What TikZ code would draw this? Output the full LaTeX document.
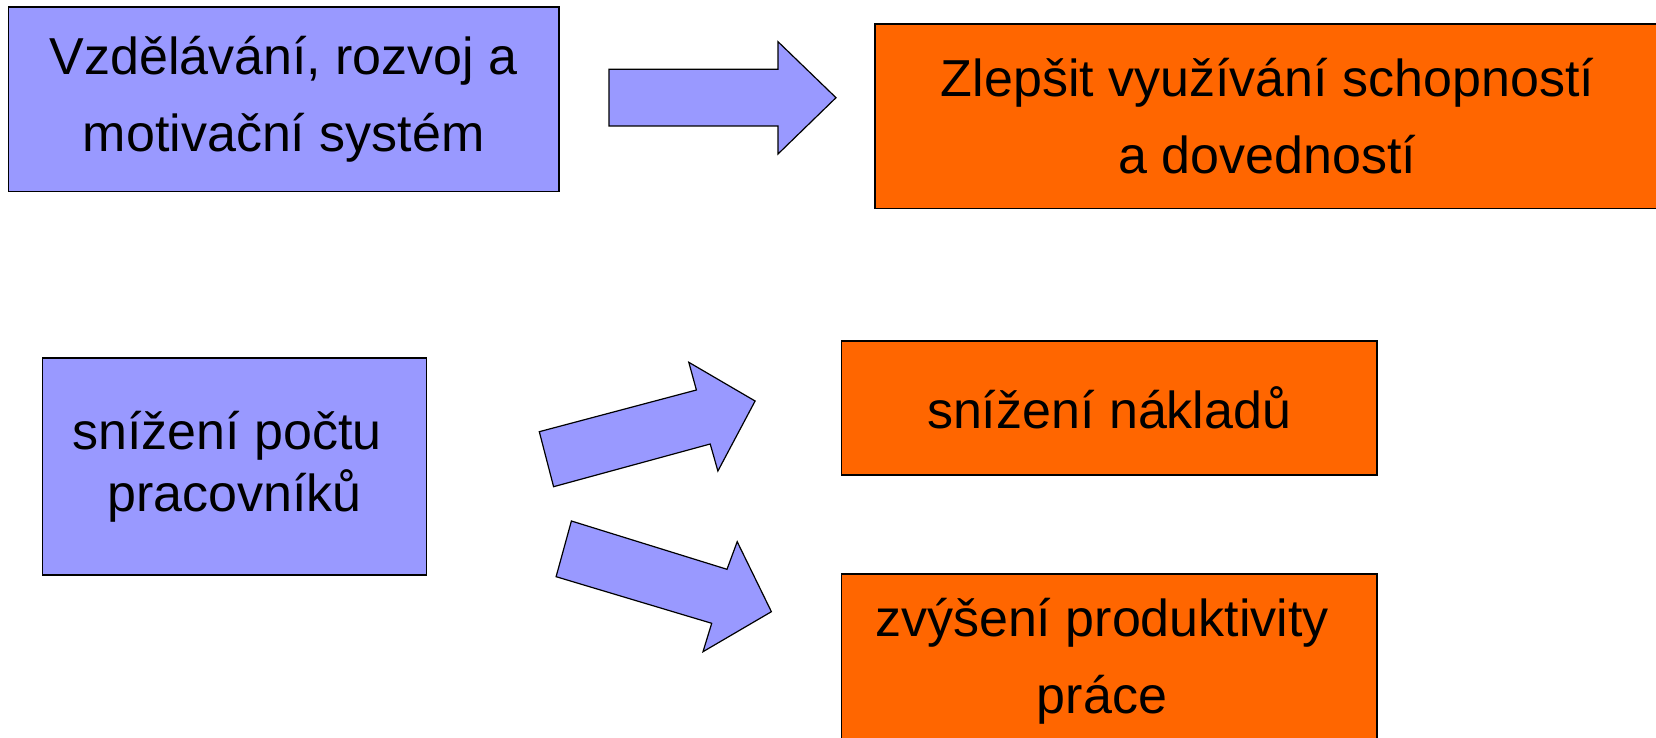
\documentclass[tikz,border=0pt]{standalone}
\usepackage{fontspec}
\setmainfont{Liberation Sans}
\definecolor{lilac}{HTML}{9999FF}
\definecolor{boxorange}{HTML}{FF6600}
\usetikzlibrary{positioning}

\begin{document}
\begin{tikzpicture}[x=0.5pt, y=-0.5pt,
    causebox/.style={rectangle, draw=black, fill=lilac, line width=0.8pt, align=center, inner sep=0pt, font=\fontsize{26pt}{38.5pt}\selectfont},
    effectbox/.style={causebox, fill=boxorange},
    blockarrow/.style={draw=black, fill=lilac, line width=0.6pt, line join=miter},
  ]
    \useasboundingbox (0,0) rectangle (1656,738);
    \clip (0,0) rectangle (1656,738);

    \node[causebox, minimum width=275.3pt, minimum height=92.1pt] (vzdelavani) at (283.7,99.4) {Vzdělávání, rozvoj a\\motivační systém};
    \node[effectbox, minimum width=392.5pt, minimum height=92.2pt] (schopnosti) at (1267.5,116.2) {Zlepšit využívání schopností\\a dovedností};
    \node[causebox, minimum width=192.1pt, minimum height=108.6pt, font=\fontsize{26pt}{31pt}\selectfont] (pocet) at (234.4,466.4) {snížení počtu\hspace*{0.278em}\\pracovníků};
    \node[effectbox, minimum width=267.9pt, minimum height=67.2pt] (naklady) at (1109.2,407.9) {snížení nákladů};
    \node[effectbox, minimum width=267.9pt, minimum height=87.5pt] (produktivita) at (1109.2,661.5) {zvýšení produktivity\hspace*{0.278em}\\práce\hspace*{0.278em}};

    % block arrows
    \draw[blockarrow] (609,69.3) -- (778,69.3) -- (778,41.7) -- (836,97.7) -- (778,154) -- (778,126) -- (609,126) -- cycle;
    \draw[blockarrow] (539.3,431.7) -- (696.4,390) -- (688.8,362.3) -- (755.1,401) -- (717.9,471) -- (710.2,444) -- (553.6,486.7) -- cycle;
    \draw[blockarrow] (571.4,521) -- (727,569.3) -- (737.2,541.7) -- (771.4,611.7) -- (703,651.7) -- (711.7,623.3) -- (556.1,576.7) -- cycle;
  \end{tikzpicture}
\end{document}
